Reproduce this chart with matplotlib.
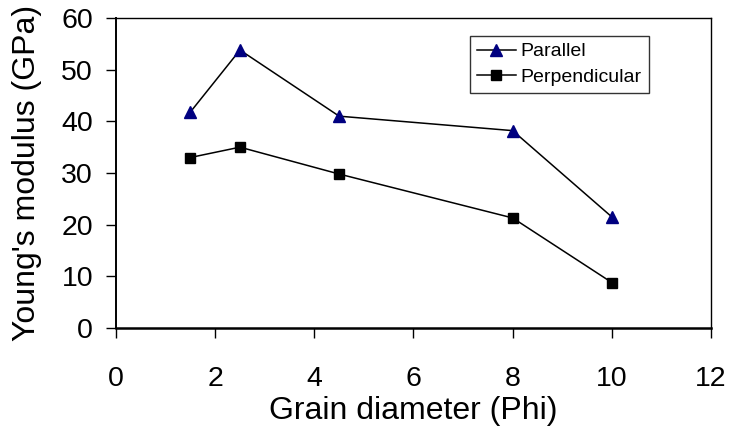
import matplotlib
matplotlib.use("Agg")
import matplotlib.pyplot as plt

plt.rcParams['font.family'] = ['Liberation Sans', 'DejaVu Sans']

grain_phi = [1.5, 2.5, 4.5, 8, 10]
parallel = [41.8, 53.8, 41.0, 38.2, 21.5]
perpendicular = [33.0, 35.0, 29.8, 21.3, 8.8]

fig = plt.figure(figsize=(7.32, 4.36), dpi=100)
ax = fig.add_axes([116 / 732, 1 - 328 / 436, 595 / 732, 310 / 436])

ax.plot(grain_phi, parallel, color='black', lw=1.1, marker='^', ms=8,
        mfc='#000080', mec='#000080', label='Parallel')
ax.plot(grain_phi, perpendicular, color='black', lw=1.1, marker='s', ms=7,
        mfc='black', mec='black', label='Perpendicular')

ax.set_xlim(0, 12)
ax.set_ylim(0, 60)
ax.set_xticks(range(0, 13, 2))
ax.set_yticks(range(0, 61, 10))
ax.tick_params(direction='out', length=7.5, width=1, labelsize=20.5)
ax.tick_params(axis='x', pad=19.5)
ax.tick_params(axis='y', pad=9)
for s in ax.spines.values():
    s.set_linewidth(1)
ax.spines['bottom'].set_linewidth(1.8)
ax.spines['left'].set_linewidth(1.4)

ax.set_xlabel('Grain diameter (Phi)', fontsize=23, labelpad=3)
ax.set_ylabel("Young's modulus (GPa)", fontsize=23, labelpad=14)

leg = ax.legend(loc='upper left', bbox_to_anchor=(0.595, 0.942), fontsize=14,
                frameon=True, fancybox=False, edgecolor='black',
                borderpad=0.35, handlelength=2.0, handletextpad=0.25,
                labelspacing=0.4, borderaxespad=0)
leg.get_frame().set_linewidth(1)

fig.savefig('out.png', dpi=100)
